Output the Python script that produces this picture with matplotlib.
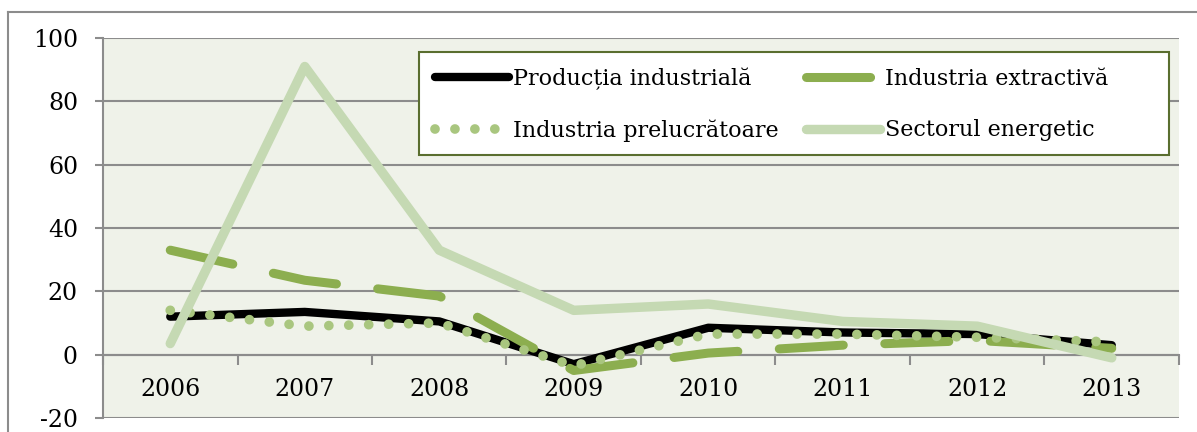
import matplotlib
matplotlib.use("Agg")
import matplotlib.pyplot as plt
from matplotlib.lines import Line2D
from matplotlib.patches import Rectangle
import numpy as np

years = ["2006", "2007", "2008", "2009", "2010", "2011", "2012", "2013"]
productia = [12.0, 13.5, 10.5, -3.0, 8.5, 7.0, 6.5, 3.0]
extractiva = [33.0, 23.5, 18.5, -5.0, 0.5, 3.0, 4.5, 2.0]
prelucratoare = [14.0, 9.0, 10.0, -3.5, 6.5, 6.5, 5.5, 4.0]
energetic = [3.5, 91.0, 33.0, 14.0, 16.0, 10.5, 9.0, -1.0]
labels = ["Producția industrială", "Industria extractivă",
          "Industria prelucrătoare", "Sectorul energetic"]
yticks = [-20, 0, 20, 40, 60, 80, 100]

plt.rcParams['font.family'] = ['DejaVu Serif']

W, H = 1197, 432
AX_L, AX_R, AX_T, AX_B = 103, 1179, 38, 418
fig = plt.figure(figsize=(W / 100, H / 100), dpi=100)
ax = fig.add_axes([AX_L / W, 1 - AX_B / H, (AX_R - AX_L) / W, (AX_B - AX_T) / H])


def ax_frac(px, py):
    return (px - AX_L) / (AX_R - AX_L), (AX_B - py) / (AX_B - AX_T)


bg = "#EFF2E9"
ax.set_facecolor(bg)
grid_c = "#8C8C8C"

x = np.arange(len(years))
c_black = "#000000"
c_dash = "#8CAE4F"
c_dot = "#A9C67F"
c_light = "#C5D9B3"

l1, = ax.plot(x, productia, color=c_black, lw=6.0, solid_capstyle='round',
              solid_joinstyle='round', zorder=3)
l2, = ax.plot(x, extractiva, color=c_dash, lw=6.5, linestyle=(0, (7.1, 4.6)),
              dash_capstyle='round', dash_joinstyle='round', zorder=3)
l3, = ax.plot(x, prelucratoare, color=c_dot, lw=7.0, linestyle=(0, (0.001, 2.05)),
              dash_capstyle='round', zorder=4)
l4, = ax.plot(x, energetic, color=c_light, lw=6.8, solid_capstyle='round',
              solid_joinstyle='round', zorder=5)

ax.set_xlim(-0.5, len(years) - 0.5)
ax.set_ylim(-20, 100)
ax.set_yticks(yticks)
ax.set_yticklabels([str(v) for v in yticks], fontsize=17)
ax.yaxis.grid(True, color=grid_c, lw=1.5, zorder=1)
ax.set_axisbelow(True)

for s in ['top', 'right']:
    ax.spines[s].set_visible(False)
ax.spines['left'].set_color(grid_c)
ax.spines['left'].set_linewidth(1.5)
ax.spines['bottom'].set_position(('data', 0))
ax.spines['bottom'].set_color(grid_c)
ax.spines['bottom'].set_linewidth(1.5)

ax.tick_params(axis='y', direction='out', length=6, width=1.5, color=grid_c, pad=12)
ax.set_xticks(x)
ax.set_xticklabels(years, fontsize=17)
ax.tick_params(axis='x', which='major', length=0, pad=17)
ax.set_xticks(np.arange(-0.5, len(years), 1.0), minor=True)
ax.tick_params(axis='x', which='minor', direction='out', length=7, width=1.5, color=grid_c)

# legend box
bx0, by0 = ax_frac(419, 155)
bx1, by1 = ax_frac(1169, 52)
box = Rectangle((bx0, by0), bx1 - bx0, by1 - by0, transform=ax.transAxes,
                facecolor="white", edgecolor="#5A6E2F", lw=1.5, zorder=9)
ax.add_patch(box)

leg = ax.legend([l1, l3, l2, l4], [labels[0], labels[2], labels[1], labels[3]],
                ncol=2, loc='upper left',
                bbox_to_anchor=ax_frac(419, 52),
                borderaxespad=0.0,
                fontsize=16, frameon=False, handlelength=3.35,
                handletextpad=0.2, columnspacing=1.2, borderpad=0.7, labelspacing=1.33)
leg.set_zorder(10)

# outer chart border (cropped)
fig.add_artist(Line2D([8 / W, 1.0], [1 - 12 / H, 1 - 12 / H], color="#8C8C8C", lw=1.5))
fig.add_artist(Line2D([8 / W, 8 / W], [0, 1 - 12 / H], color="#8C8C8C", lw=1.5))

fig.savefig("out.png", dpi=100)
